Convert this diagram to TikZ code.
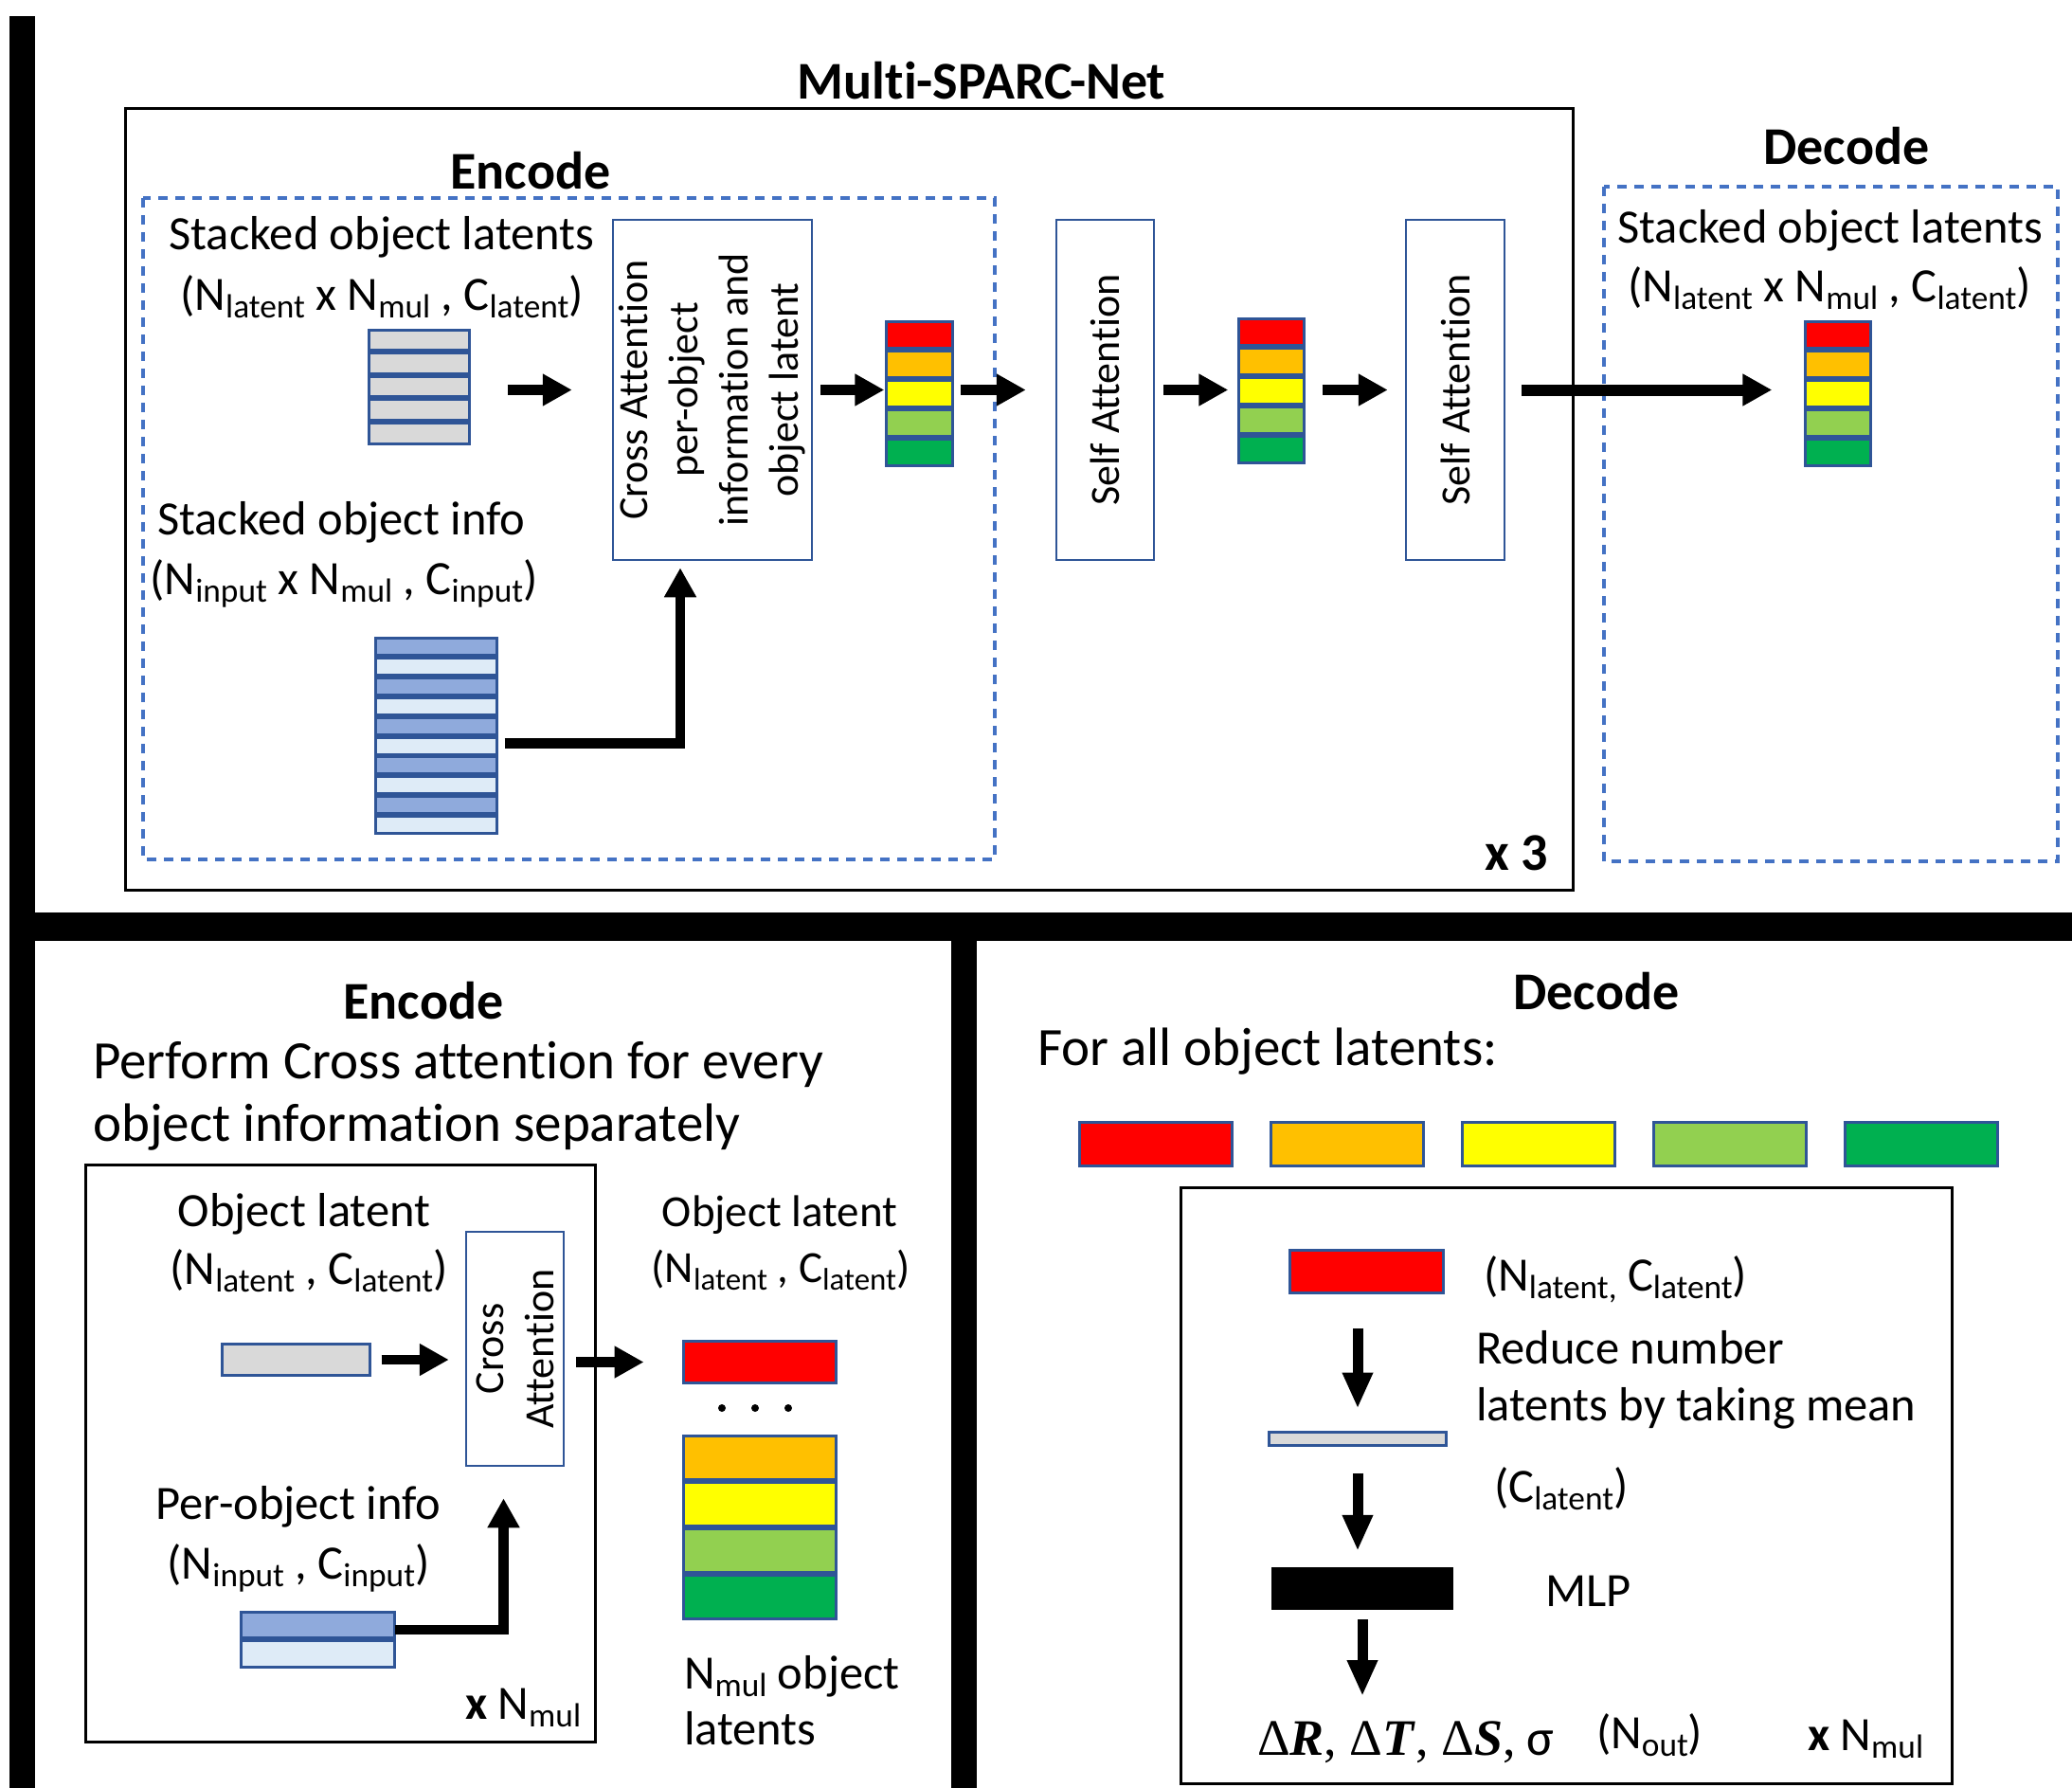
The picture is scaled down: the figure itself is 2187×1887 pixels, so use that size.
\documentclass[tikz,border=0pt]{standalone}
\usepackage{fontspec}
\usepackage{graphicx}
\setmainfont[Ligatures={NoCommon}]{Carlito}
\newfontfamily\mserif{Liberation Serif}
\usetikzlibrary{arrows.meta,fit}
\definecolor{cred}{HTML}{FF0000}
\definecolor{corange}{HTML}{FFC000}
\definecolor{cyellow}{HTML}{FFFF00}
\definecolor{clgreen}{HTML}{92D050}
\definecolor{cgreen}{HTML}{00B050}
\definecolor{cgray}{HTML}{D9D9D9}
\definecolor{cblue}{HTML}{8FAADC}
\definecolor{clblue}{HTML}{DEEBF7}
\definecolor{cedge}{HTML}{2F5597}
\definecolor{cdash}{HTML}{4472C4}
\newcommand\lo[1]{\raisebox{-0.17em}{\scalebox{0.7}{#1}}}
\newcommand\szbody{\fontsize{50.5}{60}\selectfont}
\newcommand\szhead{\fontsize{56}{66}\selectfont\bfseries}
\newcommand\szbig{\fontsize{57}{66}\selectfont}
\newcommand\szrot{\fontsize{44}{53}\selectfont}
\newcommand\szsmall{\fontsize{47}{56}\selectfont}
\begin{document}
\begin{tikzpicture}[x=1pt,y=-1pt,
  cell/.style={draw=cedge,line width=3pt,fill=#1,inner sep=0pt,outer sep=0pt},
  blockbox/.style={draw=cedge,line width=2.5pt,inner sep=0pt},
  framebox/.style={draw=black,line width=3pt},
  dashbox/.style={draw=cdash,line width=3.2pt,dash pattern=on 10pt off 8pt},
  arr/.style={line width=10.5pt,-{Triangle[length=31pt,width=32pt]}},
  arrd/.style={line width=11pt,-{Triangle[length=38pt,width=30pt]}},
  txt/.style={inner sep=0pt,outer sep=0pt,font=\szbody},
  head/.style={inner sep=0pt,outer sep=0pt,font=\szhead},
  rottxt/.style={inner sep=0pt,rotate=90,align=center,font=\szrot}]
\useasboundingbox (0,0) rectangle (2187,1887);
\fill[white] (0,0) rectangle (2187,1887);

% frame bars
\fill[black] (10,17) rectangle (37,1887);
\fill[black] (10,963) rectangle (2187,993);
\fill[black] (1004,963) rectangle (1031,1887);

% ===== top section =====
\node[head,anchor=base] (title) at (1036,104) {Multi-SPARC-Net};
\draw[framebox] (132,114) rectangle (1660,939);
\draw[dashbox] (151,209) rectangle (1050,907);
\draw[dashbox] (1693,197) rectangle (2172,909);
\node[head,anchor=base] (encT) at (560,199) {Encode};
\node[head,anchor=base] (decT) at (1949,173) {Decode};

\node[txt,anchor=base] (sol1) at (403,263) {Stacked object latents};
\node[txt,anchor=base] (dim1) at (403,327) {(N\lo{latent} x N\lo{mul} , C\lo{latent})};
\node[txt,anchor=base west] (soi) at (166,564) {Stacked object info};
\node[txt,anchor=base] (dim2) at (363,627) {(N\lo{input} x N\lo{mul} , C\lo{input})};
\node[txt,anchor=base] (sol2) at (1932,256) {Stacked object latents};
\node[txt,anchor=base] (dim3) at (1931,318) {(N\lo{latent} x N\lo{mul} , C\lo{latent})};
\node[head,anchor=base] (x3) at (1601,918) {x 3};

% gray stack
\foreach \i in {1,...,5}
  \node[cell=cgray,minimum width=106,minimum height=21.6] (g\i) at (442.5,{358.8+(\i-1)*24.6}) {};
\node[fit=(g1)(g5),inner sep=0pt] (gstack) {};

% blue stack
\foreach \i/\c in {1/cblue,2/clblue,3/cblue,4/clblue,5/cblue,6/clblue,7/cblue,8/clblue,9/cblue,10/clblue}
  \node[cell=\c,minimum width=128,minimum height=18] (b\i) at (460.5,{682.5+(\i-1)*20.9}) {};
\node[fit=(b1)(b10),inner sep=0pt] (bstack) {};

% colored stacks
\foreach \i/\c in {1/cred,2/corange,3/cyellow,4/clgreen,5/cgreen}{
  \node[cell=\c,minimum width=70,minimum height=28] (a\i) at (970.5,{353.5+(\i-1)*31}) {};
  \node[cell=\c,minimum width=69,minimum height=28] (bb\i) at (1342,{350.5+(\i-1)*31}) {};
  \node[cell=\c,minimum width=69,minimum height=28] (c\i) at (1940,{353.5+(\i-1)*31}) {};
}
\node[fit=(a1)(a5),inner sep=0pt] (sA) {};
\node[fit=(bb1)(bb5),inner sep=0pt] (sB) {};
\node[fit=(c1)(c5),inner sep=0pt] (sC) {};

% attention boxes
\node[blockbox,minimum width=210,minimum height=359] (cross) at (752,411.5) {};
\node[rottxt] (crossT) at (cross.center) {Cross Attention\\per-object\\information and\\object latent};
\node[blockbox,minimum width=103,minimum height=359] (SA1) at (1166.5,411.5) {};
\node[rottxt] (SA1T) at (SA1.center) {Self Attention};
\node[blockbox,minimum width=104,minimum height=359] (SA2) at (1536,411.5) {};
\node[rottxt] (SA2T) at (SA2.center) {Self Attention};

% top arrows
\draw[arr,shorten <=40pt,shorten >=42pt] (gstack.east |- cross.west) -- (cross.west);
\draw[arr,shorten <=8pt,shorten >=2pt] (cross.east) -- (cross.east -| sA.west);
\draw[arr,shorten <=8pt,shorten >=31pt] (sA.east |- cross.east) -- (SA1.west);
\draw[arr,shorten <=9pt,shorten >=11pt] (SA1.east) -- (SA1.east -| sB.west);
\draw[arr,shorten <=19pt,shorten >=18pt] (sB.east |- SA2.west) -- (SA2.west);
\draw[arr,line width=12pt,shorten <=17pt,shorten >=35pt] (SA2.east) -- (SA2.east -| sC.west);
\draw[arr,shorten >=7pt] ([xshift=8pt,yshift=-8pt]bstack.east) -| ([xshift=-34pt]cross.south);

% ===== bottom left =====
\node[head,anchor=base] (encB) at (447,1075) {Encode};
\node[inner sep=0pt,font=\szbig,anchor=base west] (perf1) at (98,1138) {Perform Cross attention for every};
\node[inner sep=0pt,font=\szbig,anchor=base west] (perf2) at (98,1204) {object information separately};
\draw[framebox] (90,1229) rectangle (628,1838);
\node[txt,anchor=base] (objlat) at (321,1294) {Object latent};
\node[txt,anchor=base] (dimA) at (326,1355) {(N\lo{latent} , C\lo{latent})};
\node[txt,anchor=base] (poi) at (315,1603) {Per-object info};
\node[txt,anchor=base] (dimB) at (315,1666) {(N\lo{input} , C\lo{input})};
\node[txt,anchor=base west] (xn1) at (491,1814) {\textbf{x} N\lo{mul}};

\node[cell=cgray,minimum width=156,minimum height=33] (gbar) at (312.5,1435) {};
\node[cell=cblue,minimum width=162,minimum height=27] (bp1) at (335.5,1715) {};
\node[cell=clblue,minimum width=162,minimum height=28] (bp2) at (335.5,1745.5) {};
\node[blockbox,minimum width=103,minimum height=247] (CA) at (543.5,1423.5) {};
\node[rottxt] (CAT) at (CA.center) {Cross\\Attention};

\node[inner sep=0pt,font=\szsmall,anchor=base] (objlat2) at (823,1294) {Object latent};
\node[inner sep=0pt,font=\szsmall,anchor=base] (dimC) at (824,1353) {(N\lo{latent} , C\lo{latent})};
\node[cell=cred,minimum width=161,minimum height=44] (rb) at (802,1437.5) {};
\foreach \i/\x in {1/762,2/797,3/832}
  \node[circle,fill=black,inner sep=0pt,minimum size=8] (dot\i) at (\x,1486) {};
\foreach \i/\c in {1/corange,2/cyellow,3/clgreen,4/cgreen}
  \node[cell=\c,minimum width=161,minimum height=46] (r\i) at (802,{1538+(\i-1)*49}) {};
\node[txt,anchor=base west] (nmo) at (722,1782) {N\lo{mul} object};
\node[txt,anchor=base west] (lats) at (722,1841) {latents};

\draw[arr,shorten <=12pt,shorten >=17pt] (gbar.east) -- (gbar.east -| CA.west);
\draw[arr,shorten <=12pt,shorten >=42pt] (CA.east |- rb.west) -- (rb.west);
\draw[arr,shorten >=33pt] ([yshift=-5pt]bp1.east) -| ([xshift=-12pt]CA.south);

% ===== bottom right =====
\node[head,anchor=base] (decB) at (1685,1065) {Decode};
\node[inner sep=0pt,font=\szbig,anchor=base west] (forall) at (1095,1124) {For all object latents:};
\foreach \i/\c in {1/cred,2/corange,3/cyellow,4/clgreen,5/cgreen}
  \node[cell=\c,minimum width=161,minimum height=46] (d\i) at ({1219.5+(\i-1)*202},1207.5) {};
\draw[framebox] (1246,1253) rectangle (2060,1882);
\node[cell=cred,minimum width=162,minimum height=45] (rb2) at (1442.5,1342) {};
\node[txt,anchor=base west] (dimD) at (1566,1362) {(N\lo{latent,} C\lo{latent})};
\node[txt,anchor=base west] (red1) at (1558,1439) {Reduce number};
\node[txt,anchor=base west] (red2) at (1558,1499) {latents by taking mean};
\node[cell=cgray,minimum width=187,minimum height=14] (gthin) at (1433,1518.5) {};
\node[txt,anchor=base west] (clat) at (1577,1585) {(C\lo{latent})};
\node[fill=black,inner sep=0pt,minimum width=192,minimum height=45] (mlp) at (1438,1676.5) {};
\node[txt,anchor=base west] (mlpT) at (1631,1695) {MLP};
\coordinate (outtop) at (1441,1790);
\node[inner sep=0pt,anchor=base west,font=\fontsize{54}{60}\selectfont] (outT) at (1327,1852) {{\mserif Δ\textbf{\textit{R}}, Δ\textbf{\textit{T}}, Δ\textbf{\textit{S}},} σ};
\node[txt,anchor=base west] (nout) at (1685,1845) {(N\lo{out})};
\node[txt,anchor=base west] (xn2) at (1908,1847) {\textbf{x} N\lo{mul}};

\draw[arrd,shorten <=37pt,shorten >=25pt] (gthin.north |- rb2.south) -- (gthin.north);
\draw[arrd,shorten <=29pt,shorten >=17pt] (gthin.south) -- (gthin.south |- mlp.north);
\draw[arrd,shorten <=10pt] (mlp.south) -- (mlp.south |- outtop);
\end{tikzpicture}
\end{document}
